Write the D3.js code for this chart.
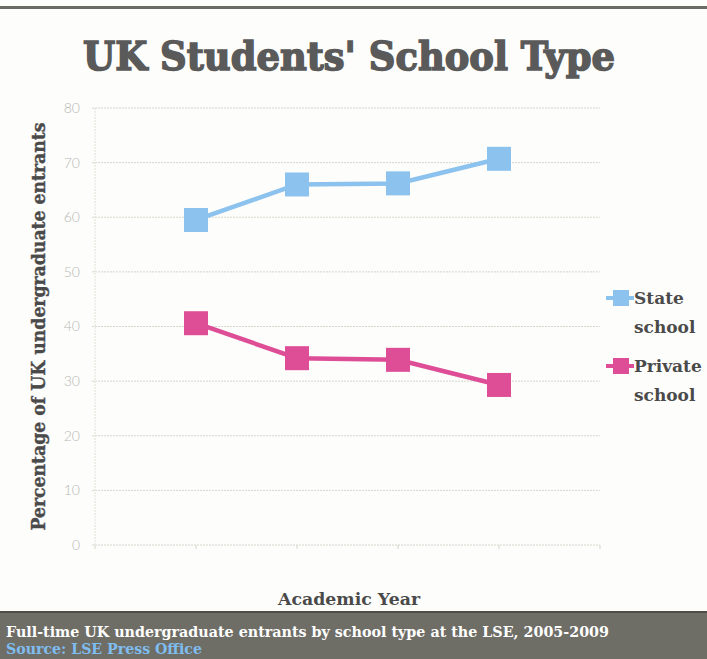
<!DOCTYPE html>
<html lang="en">
<head>
    <meta charset="UTF-8">
    <title>UK Students' School Type</title>
    <script src="https://d3js.org/d3.v7.min.js"></script>
    <style>
        body { margin: 0; background: #fdfdfb; }
        svg { display: block; }
        .serif { font-family: "DejaVu Serif", "Liberation Serif", serif; }
    </style>
</head>
<body>
<script>
    // Data
    const years = ["2005/06", "2006/07", "2007/08", "2008/09"];
    const stateSchool = [59.5, 66.0, 66.2, 70.7];
    const privateSchool = [40.6, 34.2, 33.9, 29.3];
    const yTicks = [0, 10, 20, 30, 40, 50, 60, 70, 80];

    const width = 707, height = 659;
    const plot = { left: 95, right: 600, top: 108, bottom: 545 };

    const svg = d3.select("body").append("svg")
        .attr("width", width)
        .attr("height", height);

    svg.append("rect").attr("width", width).attr("height", height).attr("fill", "#fdfdfb");

    // top rule
    svg.append("rect").attr("x", 0).attr("y", 6).attr("width", width).attr("height", 3).attr("fill", "#6b6a64");

    // title (stroked a little to get the heavy slab look)
    svg.append("text")
        .attr("class", "serif")
        .attr("x", 349).attr("y", 70)
        .attr("text-anchor", "middle")
        .attr("font-size", 40)
        .attr("font-weight", "bold")
        .attr("fill", "#5a5a5a")
        .attr("stroke", "#5a5a5a")
        .attr("stroke-width", 1.6)
        .attr("textLength", 532)
        .attr("lengthAdjust", "spacingAndGlyphs")
        .text("UK Students' School Type");

    // scales: categories sit in the middle of a 0..5 slot axis
    const x = d3.scaleLinear().domain([0, years.length + 1]).range([plot.left, plot.right]);
    const y = d3.scaleLinear().domain([0, 80]).range([plot.bottom, plot.top]);

    // grid
    svg.append("g")
        .selectAll("line")
        .data(yTicks)
        .join("line")
        .attr("x1", plot.left - 3).attr("x2", plot.right)
        .attr("y1", d => y(d)).attr("y2", d => y(d))
        .attr("stroke", "#d6d6cc")
        .attr("stroke-width", 1)
        .attr("stroke-dasharray", "2,1");

    svg.append("line")
        .attr("x1", plot.left).attr("x2", plot.left)
        .attr("y1", plot.top).attr("y2", plot.bottom)
        .attr("stroke", "#e0e0d8").attr("stroke-dasharray", "2,1");

    // x tick marks
    svg.append("g")
        .selectAll("line")
        .data(d3.range(years.length + 2))
        .join("line")
        .attr("x1", d => x(d)).attr("x2", d => x(d))
        .attr("y1", plot.bottom).attr("y2", plot.bottom + 4)
        .attr("stroke", "#d6d6cc");

    // y tick labels
    svg.append("g")
        .selectAll("text")
        .data(yTicks)
        .join("text")
        .attr("x", 80).attr("y", d => y(d))
        .attr("dy", "0.35em")
        .attr("text-anchor", "end")
        .attr("font-family", "Lato, 'Open Sans', sans-serif")
        .attr("font-weight", 300)
        .attr("font-size", 14)
        .attr("fill", "#b8b8b4")
        .text(d => d);

    // axis titles
    svg.append("text")
        .attr("class", "serif")
        .attr("transform", "translate(45," + ((plot.top + plot.bottom) / 2) + ") rotate(-90)")
        .attr("text-anchor", "middle")
        .attr("font-size", 19)
        .attr("font-weight", "bold")
        .attr("fill", "#4a4a4a")
        .attr("stroke", "#4a4a4a")
        .attr("stroke-width", 0.4)
        .attr("textLength", 408)
        .attr("lengthAdjust", "spacingAndGlyphs")
        .text("Percentage of UK undergraduate entrants");

    svg.append("text")
        .attr("class", "serif")
        .attr("x", 349).attr("y", 605)
        .attr("text-anchor", "middle")
        .attr("font-size", 17)
        .attr("font-weight", "bold")
        .attr("fill", "#4a4a4a")
        .attr("textLength", 142)
        .attr("lengthAdjust", "spacingAndGlyphs")
        .text("Academic Year");

    // series
    const series = [
        { name: ["State", "school"], values: stateSchool, color: "#8cc2ee" },
        { name: ["Private", "school"], values: privateSchool, color: "#de4e97" }
    ];

    const line = d3.line()
        .x((d, i) => x(i + 1))
        .y(d => y(d));

    const m = 24;
    series.forEach(s => {
        svg.append("path")
            .attr("d", line(s.values))
            .attr("fill", "none")
            .attr("stroke", s.color)
            .attr("stroke-width", 4.5);

        svg.append("g")
            .selectAll("rect")
            .data(s.values)
            .join("rect")
            .attr("x", (d, i) => x(i + 1) - m / 2)
            .attr("y", d => y(d) - m / 2)
            .attr("width", m).attr("height", m)
            .attr("fill", s.color);
    });

    // legend
    const legend = svg.append("g");
    series.forEach((s, i) => {
        const ly = 298 + i * 68;
        legend.append("line")
            .attr("x1", 606).attr("x2", 634)
            .attr("y1", ly).attr("y2", ly)
            .attr("stroke", s.color).attr("stroke-width", 4);
        legend.append("rect")
            .attr("x", 613).attr("y", ly - 8)
            .attr("width", 16).attr("height", 16)
            .attr("fill", s.color);
        s.name.forEach((t, j) => {
            legend.append("text")
                .attr("class", "serif")
                .attr("x", 634).attr("y", ly + 6 + j * 29)
                .attr("font-size", 17)
                .attr("font-weight", "bold")
                .attr("fill", "#4a4a4a")
                .text(t);
        });
    });

    // caption band
    svg.append("rect")
        .attr("x", 0).attr("y", 612)
        .attr("width", width).attr("height", height - 612)
        .attr("fill", "#6e6d66");
    svg.append("rect")
        .attr("x", 0).attr("y", 611)
        .attr("width", width).attr("height", 2)
        .attr("fill", "#4e4d48");

    svg.append("text")
        .attr("class", "serif")
        .attr("x", 6).attr("y", 637)
        .attr("font-size", 15)
        .attr("font-weight", "bold")
        .attr("fill", "#ffffff")
        .attr("textLength", 603)
        .attr("lengthAdjust", "spacingAndGlyphs")
        .text("Full-time UK undergraduate entrants by school type at the LSE, 2005-2009");

    svg.append("text")
        .attr("class", "serif")
        .attr("x", 6).attr("y", 654)
        .attr("font-size", 14)
        .attr("font-weight", "bold")
        .attr("fill", "#7fbdf0")
        .attr("textLength", 196)
        .attr("lengthAdjust", "spacingAndGlyphs")
        .text("Source: LSE Press Office");
</script>
</body>
</html>
